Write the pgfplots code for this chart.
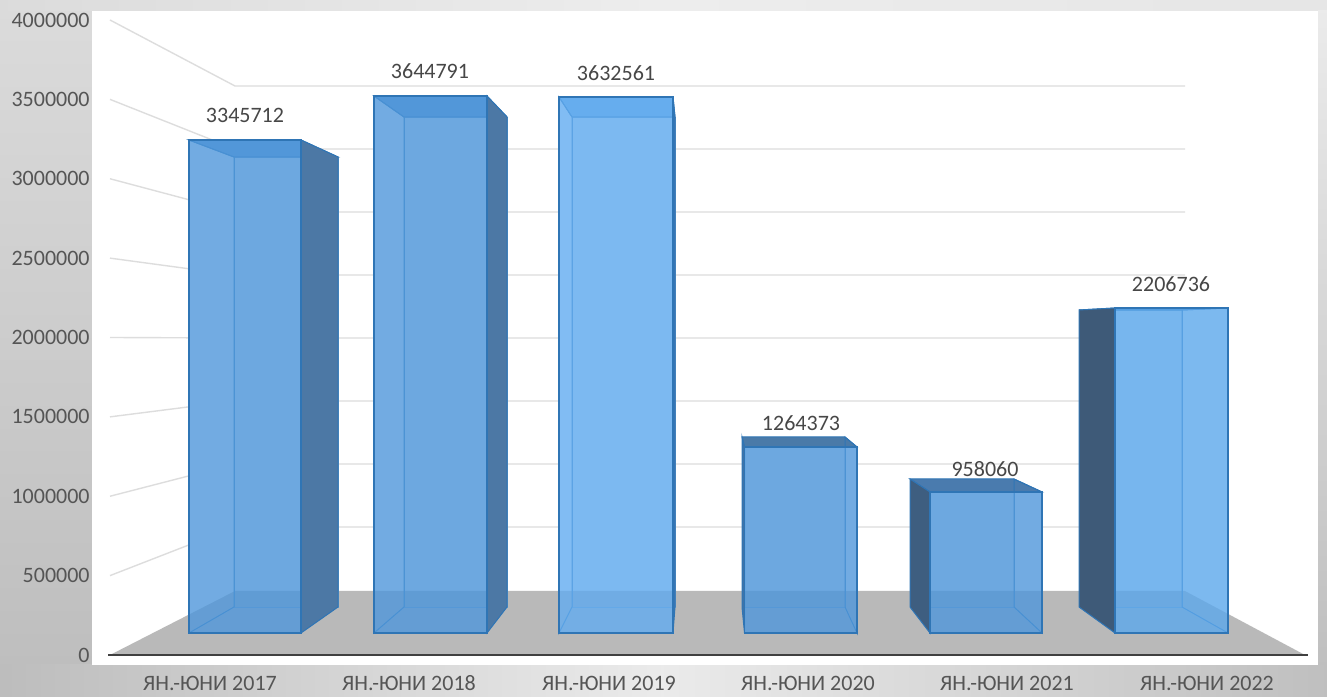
\documentclass[border=0pt]{standalone}
\usepackage{fontspec}
\setmainfont{Carlito}
\usepackage{pgfplots}
\pgfplotsset{compat=1.18}

\definecolor{txtgray}{HTML}{555555}
\definecolor{gridgray}{HTML}{DDDDDD}
\definecolor{floorgray}{HTML}{B9B9B9}
\definecolor{baredge}{HTML}{2F75B5}

\tikzset{
  fA/.style={fill={rgb,255:red,79;green,151;blue,219}},
  fB/.style={fill={rgb,255:red,98;green,172;blue,240}},
  fC/.style={fill={rgb,255:red,79;green,151;blue,219}},
  fD/.style={fill={rgb,255:red,79;green,151;blue,219}},
  fE/.style={fill={rgb,255:red,92;green,168;blue,236}},
  rA/.style={fill={rgb,255:red,76;green,120;blue,165}},
  rB/.style={fill={rgb,255:red,60;green,118;blue,180}},
  rC/.style={},rD/.style={},rE/.style={},
  lA/.style={},lB/.style={},
  lC/.style={fill={rgb,255:red,62;green,115;blue,168}},
  lD/.style={fill={rgb,255:red,62;green,94;blue,128}},
  lE/.style={fill={rgb,255:red,62;green,90;blue,120}},
  tA/.style={fill={rgb,255:red,98;green,155;blue,210}},
  tB/.style={fill={rgb,255:red,122;green,181;blue,234}},
  tC/.style={fill={rgb,255:red,74;green,122;blue,168}},
  tD/.style={fill={rgb,255:red,74;green,123;blue,174}},
  tE/.style={fill={rgb,255:red,74;green,128;blue,184}},
}

% front bottom and back bottom of every bar
\def\yf{138582}
\def\yb{302362}

% x front l/r, x back l/r, y top front, y top back, colour set
\newcommand{\boxbar}[7]{
  \addplot[draw=baredge!70,line width=.4pt,fill=baredge,fill opacity=.12] coordinates {(#3,\yb)(#4,\yb)(#4,#6)(#3,#6)} --cycle;
  \addplot[draw=baredge,line width=.5pt,t#7] coordinates {(#1,#5)(#2,#5)(#4,#6)(#3,#6)} --cycle;
  \addplot[draw=baredge,line width=.5pt,r#7] coordinates {(#2,\yf)(#2,#5)(#4,#6)(#4,\yb)} --cycle;
  \addplot[draw=baredge,line width=.5pt,l#7] coordinates {(#1,\yf)(#1,#5)(#3,#6)(#3,\yb)} --cycle;
  \addplot[draw=baredge,line width=.7pt,f#7,fill opacity=.8] coordinates {(#1,\yf)(#2,\yf)(#2,#5)(#1,#5)} --cycle;
}

% white under a see-through front, so no gridline shows in it
\newcommand{\mask}[3]{
  \addplot[draw=none,fill=white] coordinates {(#1,\yf)(#2,\yf)(#2,#3)(#1,#3)} --cycle;
}

% side wall and back wall line of one gridline
\newcommand{\wall}[2]{
  \addplot[gridgray,line width=.7pt] coordinates {(110,#1)(235,#2)(1185,#2)};
}

\begin{document}
\begin{tikzpicture}
% 1 px = 0.5 pt, backdrop
\shade[left color=black!15,right color=black!25] (0,0) rectangle (663.5pt,348.5pt);
\shade[top color=black!14,bottom color=black!26] (0,0) rectangle (46pt,348.5pt);
\shade[left color=black!14,right color=black!7] (0,343pt) rectangle (331pt,348.5pt);
\shade[left color=black!7,right color=black!10] (331pt,343pt) rectangle (663.5pt,348.5pt);
\shade[left color=black!26,right color=black!8] (0,0) rectangle (331pt,16pt);
\shade[left color=black!8,right color=black!25] (331pt,0) rectangle (663.5pt,16pt);
\shade[top color=black!8,bottom color=black!25] (659pt,16pt) rectangle (663.5pt,343pt);
\fill[white] (46pt,16pt) rectangle (659pt,343pt);

\begin{axis}[
  at={(0,0)},anchor=south west,
  scale only axis,
  width=663.5pt,height=348.5pt,
  xmin=0,xmax=1327,
  ymin=-264566,ymax=4125976,
  axis line style={draw=none},
  tick style={draw=none},
  font=\fontsize{11}{13}\selectfont,
  xtick={210,409,609,808,1007,1207},
  xticklabels={ЯН.-ЮНИ 2017,ЯН.-ЮНИ 2018,ЯН.-ЮНИ 2019,ЯН.-ЮНИ 2020,ЯН.-ЮНИ 2021,ЯН.-ЮНИ 2022},
  xticklabel style={anchor=center,yshift=7pt,text=txtgray},
  ytick={0,500000,1000000,1500000,2000000,2500000,3000000,3500000,4000000},
  yticklabel style={anchor=east,inner sep=0pt,xshift=45pt,text=txtgray,
    /pgf/number format/.cd,fixed,1000 sep={},precision=0,assume math mode=true},
  scaled y ticks=false,
]
% walls, then floor
\wall{4000000}{3584245}
\wall{3500000}{3187395}
\wall{3000000}{2790546}
\wall{2500000}{2393696}
\wall{2000000}{1996846}
\wall{1500000}{1599997}
\wall{1000000}{1203147}
\wall{500000}{806298}
\mask{189}{301}{3244088}
\mask{374}{487}{3521253}
\mask{559}{673}{3514954}
\mask{744.5}{857}{1310234}
\mask{930}{1042}{1026770}
\mask{1115}{1228}{2185822}
\addplot[draw=none,fill=floorgray] coordinates {(110,0)(235,403149)(1185,403149)(1305,0)} --cycle;
\addplot[black!75,line width=1.2pt] coordinates {(108,0)(1308,0)};

% bars, heights as drawn in the perspective view
\boxbar{189}{301}{234}{338}{3244088}{3137002}{A}
\boxbar{374}{487}{404}{507}{3521253}{3388970}{A}
\boxbar{559}{673}{572}{675}{3514954}{3388970}{B}
\boxbar{744.5}{857}{742}{845}{1310234}{1373226}{C}
\boxbar{930}{1042}{910}{1014}{1026770}{1108659}{D}
\boxbar{1115}{1228}{1079}{1182}{2185822}{2173224}{E}

% value labels
\addplot[draw=none,mark=none,nodes near coords,point meta=explicit symbolic,
  every node near coord/.append style={anchor=center,inner sep=0pt,text=black!72}]
  table[meta=v] {
x y v
245 3401568 3345712
430 3678733 3644791
616 3666134 3632561
801 1461414 1264373
985 1171651 958060
1171 2337003 2206736
};
\end{axis}
\end{tikzpicture}
\end{document}
